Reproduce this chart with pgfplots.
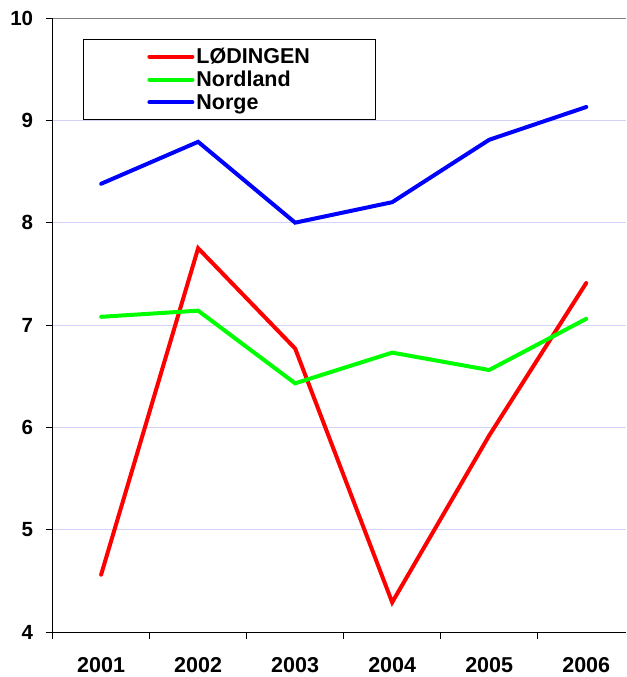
\documentclass[border=0pt]{standalone}
\usepackage{fontspec}
\setmainfont{Liberation Sans}
\usepackage{pgfplots}
\pgfplotsset{compat=1.18}
\definecolor{gridlav}{RGB}{210,210,250}
\definecolor{lred}{RGB}{255,0,0}
\definecolor{lgreen}{RGB}{0,255,0}
\definecolor{lblue}{RGB}{0,0,255}

\begin{document}
\begin{tikzpicture}[font=\bfseries\fontsize{20.5}{22}\selectfont]
\path (-52.6pt,-45pt) rectangle (573.4pt,632pt);
\begin{axis}[
    at={(0pt,0pt)}, anchor=south west,
    scale only axis,
    width=573.4pt, height=614pt,
    xmin=2000.5, xmax=2006.41,
    ymin=4, ymax=10,
    axis lines=left,
    axis line style={-, black, line width=0.8pt},
    tick align=outside,
    major tick length=7pt,
    tick style={black, line width=0.8pt},
    ytick={4,5,6,7,8,9},
    extra y ticks={10},
    extra y tick style={major grid style={gray, line width=0.8pt}},
    ymajorgrids,
    major grid style={gridlav, line width=0.8pt},
    /pgf/number format/assume math mode=true,
    yticklabel style={xshift=-9pt, font=\bfseries\fontsize{20.5}{22}\selectfont},
    xtick={2000.5,2001.5,2002.5,2003.5,2004.5,2005.5},
    xticklabels={},
    extra x ticks={2001,2002,2003,2004,2005,2006},
    extra x tick labels={2001,2002,2003,2004,2005,2006},
    extra x tick style={major tick length=0pt, xticklabel style={yshift=-22pt, font=\bfseries\fontsize{21.5}{22}\selectfont}},
    legend style={at={(0.053,0.966)}, anchor=north west, draw=black, line width=0.8pt,
        inner xsep=64pt, inner ysep=7pt, row sep=2pt,
        font=\bfseries\fontsize{21.5}{22}\selectfont},
    legend cell align=left,
    legend image code/.code={\draw[#1, line width=4pt] (0pt,0pt) -- (43pt,0pt);},
]
\addplot[lred, line width=4pt, line cap=round] coordinates {
    (2001,4.56) (2002,7.75) (2003,6.77) (2004,4.29) (2005,5.92) (2006,7.41)};
\addlegendentry{LØDINGEN}
\addplot[lgreen, line width=4pt, line cap=round] coordinates {
    (2001,7.08) (2002,7.14) (2003,6.43) (2004,6.73) (2005,6.56) (2006,7.06)};
\addlegendentry{Nordland}
\addplot[lblue, line width=4pt, line cap=round] coordinates {
    (2001,8.38) (2002,8.79) (2003,8.00) (2004,8.20) (2005,8.81) (2006,9.13)};
\addlegendentry{Norge}
\end{axis}
\end{tikzpicture}
\end{document}
